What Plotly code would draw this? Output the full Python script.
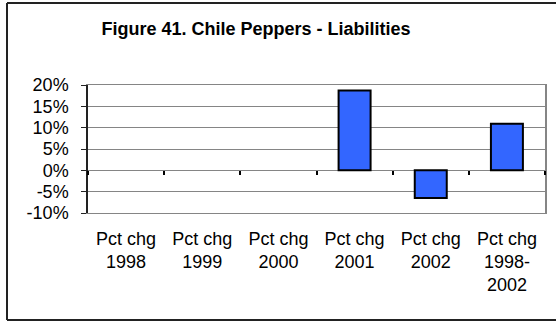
import plotly.graph_objects as go

# Data
categories = ["Pct chg 1998", "Pct chg 1999", "Pct chg 2000", "Pct chg 2001", "Pct chg 2002", "Pct chg 1998-2002"]
tick_labels = ["Pct chg<br>1998", "Pct chg<br>1999", "Pct chg<br>2000", "Pct chg<br>2001", "Pct chg<br>2002", "Pct chg<br>1998-<br>2002"]
values = [None, None, None, 18.7, -6.5, 10.9]
y_ticks = [-10, -5, 0, 5, 10, 15, 20]
title_text = "Figure 41. Chile Peppers - Liabilities"

FONT = "Liberation Sans, Arial, sans-serif"
GRID = "#858585"

fig = go.Figure()
fig.add_trace(go.Bar(
    x=categories, y=values,
    marker=dict(color="#3366FF", line=dict(color="black", width=2)),
    showlegend=False, hoverinfo="skip",
))
# helper trace so the zero-line tick axis knows the categories
fig.add_trace(go.Scatter(
    x=categories, y=[None] * len(categories), xaxis="x2", mode="lines",
    showlegend=False, hoverinfo="skip",
))
# helper trace for right frame line axis
fig.add_trace(go.Scatter(
    x=categories, y=[None] * len(categories), yaxis="y2", mode="lines",
    showlegend=False, hoverinfo="skip",
))

yr = [-10, 20]
PL, PB, PW, PH = 88, 109, 457, 128
bx0 = (7 - PL) / PW
by0 = (322 - PB - 320) / PH
by1 = (322 - PB - 3) / PH
bx1 = 1.3
border = dict(color="#222222", width=2)

fig.update_layout(
    width=556, height=322,
    margin=dict(l=88, r=11, t=85, b=109),
    paper_bgcolor="white", plot_bgcolor="white",
    font=dict(family=FONT, size=18, color="black"),
    bargap=0.58,
    title=dict(text="<b>" + title_text + "</b>", x=256 / 556, xref="container", xanchor="center",
               y=1 - 29 / 322, yref="container", yanchor="middle",
               font=dict(family=FONT, size=18, color="black")),
    xaxis=dict(
        type="category", categoryorder="array", categoryarray=categories,
        tickvals=categories, ticktext=tick_labels,
        ticks="", showgrid=False, showline=True, linecolor=GRID, linewidth=1, mirror=True,
        ticklabelstandoff=9, tickfont=dict(size=18),
        range=[-0.5, len(categories) - 0.5],
    ),
    xaxis2=dict(
        type="category", categoryorder="array", categoryarray=categories,
        overlaying="x", anchor="free", position=(0 - yr[0]) / (yr[1] - yr[0]),
        tickson="boundaries", ticks="outside", ticklen=4, tickwidth=1.5, tickcolor="black",
        showticklabels=False, showgrid=False, showline=False, zeroline=False,
        range=[-0.5, len(categories) - 0.5],
    ),
    yaxis=dict(
        range=yr, tickvals=y_ticks, ticktext=[f"{v}%" for v in y_ticks],
        showgrid=True, gridcolor=GRID, gridwidth=1,
        zeroline=True, zerolinecolor=GRID, zerolinewidth=1,
        showline=True, linecolor="#222222", linewidth=1.5,
        ticks="outside", ticklen=5, tickcolor="#222222", tickwidth=1,
        ticklabelstandoff=9, tickfont=dict(size=18),
    ),
    yaxis2=dict(
        range=yr, overlaying="y", side="right", showline=True, linecolor=GRID, linewidth=1.5,
        showticklabels=False, ticks="", showgrid=False, zeroline=False,
    ),
    shapes=[
        dict(type="line", xref="paper", yref="paper", x0=bx0, x1=bx0, y0=by0, y1=by1, line=border, layer="below"),
        dict(type="line", xref="paper", yref="paper", x0=bx0, x1=bx1, y0=by1, y1=by1, line=border, layer="below"),
        dict(type="line", xref="paper", yref="paper", x0=bx0, x1=bx1, y0=by0, y1=by0, line=border, layer="below"),
    ],
)

fig.write_html("out.html", config={"displayModeBar": False},
               post_script="document.body.style.margin='0';")
